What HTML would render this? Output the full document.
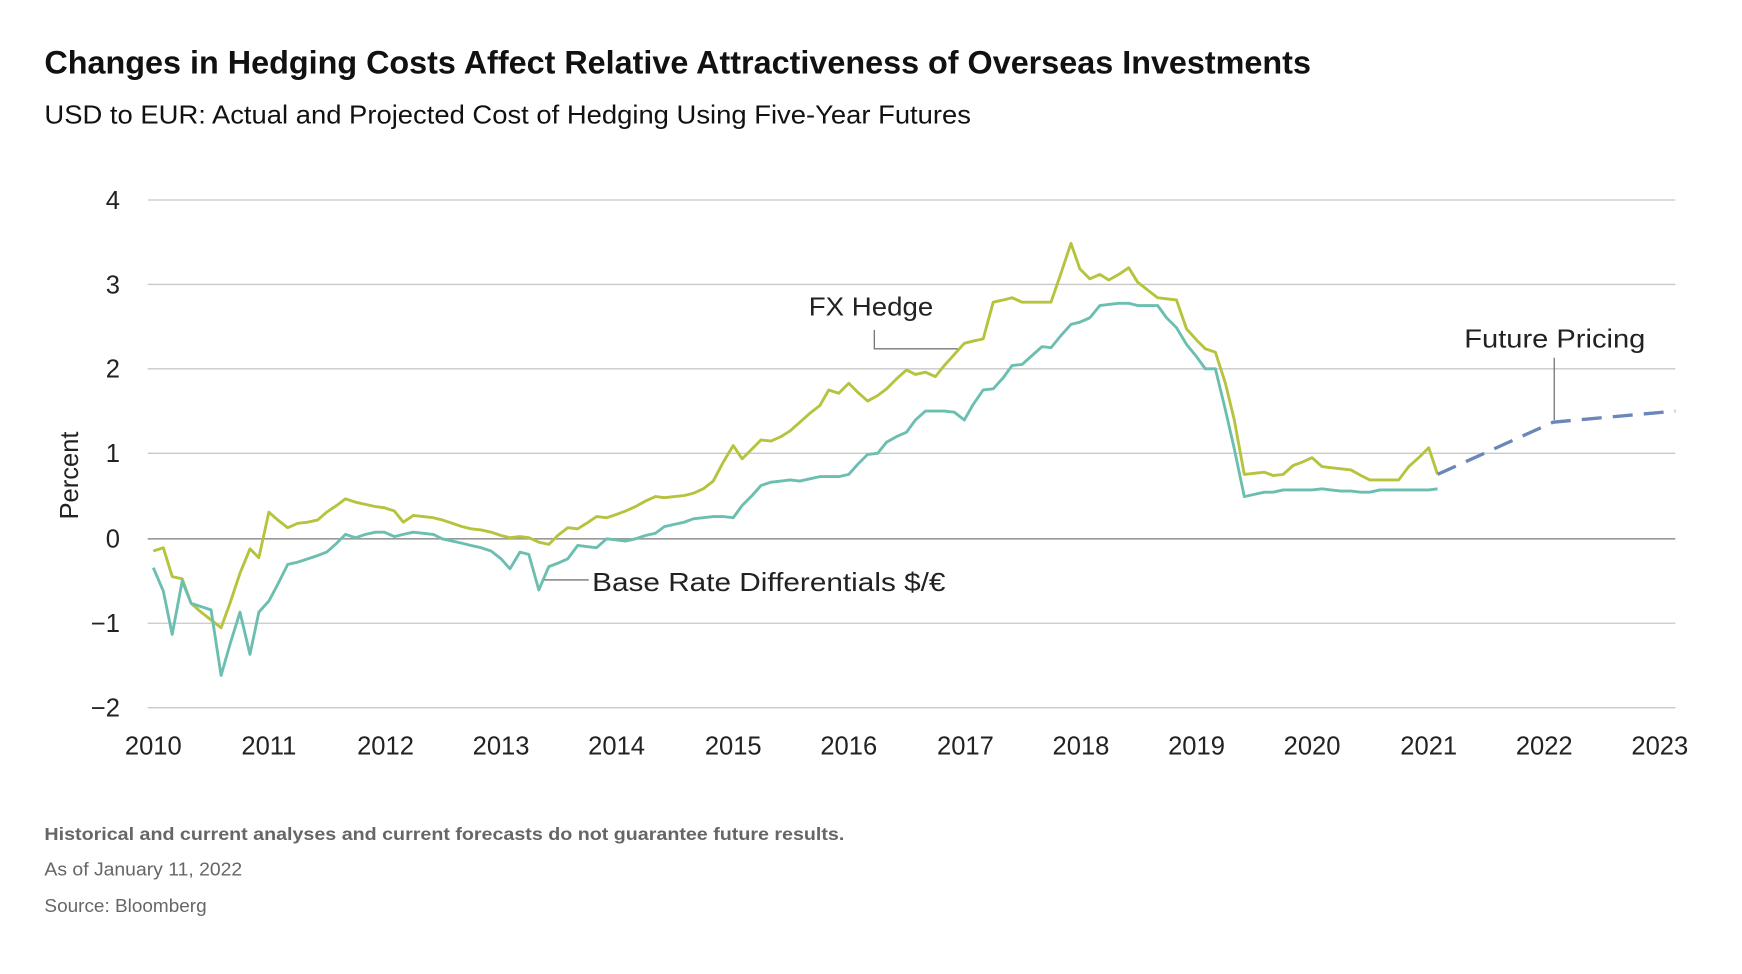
<!DOCTYPE html>
<html><head><meta charset="utf-8"><style>
html,body{margin:0;padding:0;background:#fff;}
svg{display:block;}
text{font-family:"Liberation Sans",sans-serif;}
</style></head><body>
<svg width="1742" height="974" viewBox="0 0 1568 876.7" xmlns="http://www.w3.org/2000/svg">
<text x="40" y="66" font-size="29" font-weight="bold" fill="#111" textLength="1140" lengthAdjust="spacingAndGlyphs">Changes in Hedging Costs Affect Relative Attractiveness of Overseas Investments</text>
<text x="40" y="111" font-size="23" fill="#111" textLength="834" lengthAdjust="spacingAndGlyphs">USD to EUR: Actual and Projected Cost of Hedging Using Five-Year Futures</text>
<g stroke="#c8c8c8" stroke-width="1.2">
<line x1="133" y1="180" x2="1508" y2="180"/>
<line x1="133" y1="256" x2="1508" y2="256"/>
<line x1="133" y1="332" x2="1508" y2="332"/>
<line x1="133" y1="408" x2="1508" y2="408"/>
<line x1="133" y1="561" x2="1508" y2="561"/>
<line x1="133" y1="637" x2="1508" y2="637"/>
</g>
<line x1="133" y1="485" x2="1508" y2="485" stroke="#999" stroke-width="1.4"/>
<g font-size="23" fill="#222" text-anchor="end">
<text x="108" y="188">4</text><text x="108" y="264">3</text><text x="108" y="340">2</text><text x="108" y="416">1</text><text x="108" y="493">0</text><text x="108" y="569">−1</text><text x="108" y="645">−2</text>
</g>
<text transform="translate(70,428) rotate(-90)" font-size="23" fill="#222" text-anchor="middle">Percent</text>
<g font-size="23" fill="#222" text-anchor="middle">
<text x="138" y="679">2010</text><text x="242" y="679">2011</text><text x="347" y="679">2012</text><text x="451" y="679">2013</text><text x="555" y="679">2014</text><text x="660" y="679">2015</text><text x="764" y="679">2016</text><text x="869" y="679">2017</text><text x="973" y="679">2018</text><text x="1077" y="679">2019</text><text x="1181" y="679">2020</text><text x="1286" y="679">2021</text><text x="1390" y="679">2022</text><text x="1494" y="679">2023</text>
</g>
<polyline fill="none" stroke="#b6c33c" stroke-width="2.6" stroke-linejoin="round" points="138,496 147,493 155,519 164,521 172,543 181,551 190,558 199,565 207,543 216,516 225,494 233,502 242,461 250,468 259,475 268,471 277,470 286,468 294,461 303,455 311,449 320,452 329,454 338,456 346,457 355,460 363,470 372,464 381,465 390,466 398,468 407,471 416,474 424,476 433,477 442,479 451,482 459,484 468,483 476,484 485,488 494,490 502,482 511,475 520,476 528,471 537,465 546,466 555,463 563,460 572,456 581,451 590,447 598,448 607,447 616,446 624,444 633,440 642,433 651,416 660,401 668,413 677,404 685,396 694,397 703,393 711,388 720,380 729,372 738,365 746,351 755,354 764,345 772,353 781,361 790,356 798,350 807,341 816,333 824,337 833,335 842,339 850,329 859,319 868,309 876,307 885,305 894,272 903,270 911,268 920,272 929,272 938,272 946,272 955,246 964,219 972,242 981,251 990,247 998,252 1007,247 1016,241 1024,254 1033,261 1042,268 1050,269 1059,270 1068,296 1077,306 1085,314 1094,317 1103,345 1111,378 1120,427 1129,426 1138,425 1146,428 1155,427 1164,419 1172,416 1181,412 1190,420 1198,421 1207,422 1216,423 1225,428 1233,432 1242,432 1251,432 1259,432 1268,420 1277,412 1286,403 1294,427"/>
<polyline fill="none" stroke="#6cbfb0" stroke-width="2.6" stroke-linejoin="round" points="138,511 147,532 155,571 164,523 172,543 181,546 190,549 199,608 207,580 216,551 225,589 233,551 242,541 250,526 259,508 268,506 277,503 286,500 294,497 303,489 311,481 320,484 329,481 338,479 346,479 355,483 363,481 372,479 381,480 390,481 398,485 407,487 416,489 424,491 433,493 442,496 451,503 459,512 468,497 476,499 485,531 494,510 502,507 511,503 520,491 528,492 537,493 546,485 555,486 563,487 572,485 581,482 590,480 598,474 607,472 616,470 624,467 633,466 642,465 651,465 660,466 668,455 677,446 685,437 694,434 703,433 711,432 720,433 729,431 738,429 746,429 755,429 764,427 772,418 781,409 790,408 798,398 807,393 816,389 824,378 833,370 842,370 850,370 859,371 868,378 876,364 885,351 894,350 903,340 911,329 920,328 929,320 938,312 946,313 955,302 964,292 972,290 981,286 990,275 998,274 1007,273 1016,273 1024,275 1033,275 1042,275 1050,286 1059,295 1068,310 1077,321 1085,332 1094,332 1103,369 1111,404 1120,447 1129,445 1138,443 1146,443 1155,441 1164,441 1172,441 1181,441 1190,440 1198,441 1207,442 1216,442 1225,443 1233,443 1242,441 1251,441 1259,441 1268,441 1277,441 1286,441 1294,440"/>
<polyline fill="none" stroke="#6b86b8" stroke-width="3" stroke-dasharray="18,10" points="1294,427 1398,380 1508,370"/>
<g stroke="#777" stroke-width="1.2" fill="none">
<polyline points="787,297 787,314 862,314"/>
<line x1="490" y1="522" x2="530" y2="522"/>
<line x1="1399" y1="322" x2="1399" y2="378"/>
</g>
<g font-size="23" fill="#222">
<text x="728" y="284" textLength="112" lengthAdjust="spacingAndGlyphs">FX Hedge</text>
<text x="533" y="532" textLength="318" lengthAdjust="spacingAndGlyphs">Base Rate Differentials $/€</text>
<text x="1318" y="313" textLength="163" lengthAdjust="spacingAndGlyphs">Future Pricing</text>
</g>
<text x="40" y="756" font-size="16" font-weight="bold" fill="#666" textLength="720" lengthAdjust="spacingAndGlyphs">Historical and current analyses and current forecasts do not guarantee future results.</text>
<text x="40" y="788" font-size="17" fill="#666" textLength="178" lengthAdjust="spacingAndGlyphs">As of January 11, 2022</text>
<text x="40" y="821" font-size="17" fill="#666" textLength="146" lengthAdjust="spacingAndGlyphs">Source: Bloomberg</text>
</svg>
</body></html>
